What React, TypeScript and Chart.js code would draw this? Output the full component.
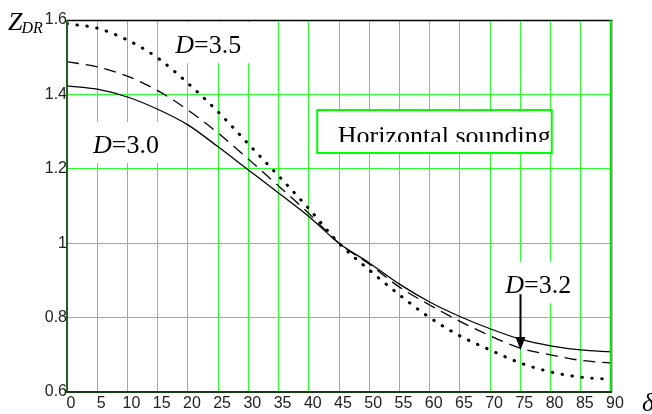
import React, { useEffect, useRef } from "react";
import { Chart, registerables } from "chart.js";

Chart.register(...registerables);

// ---- data ----
const xValues = [0, 5, 10, 15, 20, 25, 30, 35, 40, 45, 50, 55, 60, 65, 70, 75, 80, 85, 90];
const solidD30 = [1.423, 1.414, 1.393, 1.36, 1.318, 1.259, 1.197, 1.135, 1.072, 1.0, 0.947, 0.89, 0.842, 0.803, 0.77, 0.742, 0.724, 0.713, 0.708];
const dashedD32 = [1.488, 1.474, 1.449, 1.41, 1.358, 1.296, 1.226, 1.154, 1.08, 1.0, 0.944, 0.882, 0.834, 0.79, 0.751, 0.718, 0.7, 0.685, 0.678];
const dottedD35 = [1.59, 1.578, 1.546, 1.498, 1.43, 1.353, 1.267, 1.181, 1.093, 1.0, 0.928, 0.861, 0.8, 0.751, 0.713, 0.678, 0.654, 0.64, 0.634];

const xTicks = [0, 5, 10, 15, 20, 25, 30, 35, 40, 45, 50, 55, 60, 65, 70, 75, 80, 85, 90];
const yTicks = [0.6, 0.8, 1.0, 1.2, 1.4, 1.6];
const yTickLabels = ["0.6", "0.8", "1", "1.2", "1.4", "1.6"];

// curve labels (data units: left x, baseline y)
const curveLabelNums = ["3.5", "3.0", "3.2"];
const curveLabelX = [17.9, 4.3, 72.5];
const curveLabelY = [1.511, 1.2425, 0.866];

// "Horizontal sounding" box (data units)
const boxText = "Horizontal sounding";
const boxXRange = [41.4, 80.2];
const boxYRange = [1.358, 1.2425];
const boxTextX = 44.8;
const boxTextBaseline = 1.2667;
const boxTextClip = 1.272;

// arrow for D=3.2
const arrowX = 75;
const arrowFrom = 0.863;
const arrowTo = 0.713;

const SERIF = '"Liberation Serif", "Times New Roman", serif';
const SANS = '"Liberation Sans", Arial, sans-serif';
const GRID = "#2bff2b";

function drawDLabel(ctx: CanvasRenderingContext2D, x: number, y: number, num: string) {
  ctx.font = `italic 26px ${SERIF}`;
  ctx.fillText("D", x, y);
  const w = ctx.measureText("D").width;
  ctx.font = `26px ${SERIF}`;
  ctx.fillText("=" + num, x + w, y);
  return w + ctx.measureText("=" + num).width;
}

function measureDLabel(ctx: CanvasRenderingContext2D, num: string) {
  ctx.font = `italic 26px ${SERIF}`;
  const w = ctx.measureText("D").width;
  ctx.font = `26px ${SERIF}`;
  return w + ctx.measureText("=" + num).width;
}

const annotationPlugin = {
  id: "annots",
  beforeDatasetsDraw(chart: any) {
    const { ctx, scales } = chart;
    const xs = scales.x;
    const ys = scales.y;
    ctx.save();
    // white backgrounds behind labels
    ctx.fillStyle = "#ffffff";
    for (let i = 0; i < curveLabelNums.length; i++) {
      const px = xs.getPixelForValue(curveLabelX[i]);
      const py = ys.getPixelForValue(curveLabelY[i]);
      const w = measureDLabel(ctx, curveLabelNums[i]);
      ctx.fillRect(px - 8, py - 31, w + 16, 41);
    }
    // box
    const bx0 = xs.getPixelForValue(boxXRange[0]);
    const bx1 = xs.getPixelForValue(boxXRange[1]);
    const by0 = ys.getPixelForValue(boxYRange[0]);
    const by1 = ys.getPixelForValue(boxYRange[1]);
    ctx.fillStyle = "#ffffff";
    ctx.fillRect(bx0, by0, bx1 - bx0, by1 - by0);
    ctx.strokeStyle = "#00ff00";
    ctx.lineWidth = 2;
    ctx.strokeRect(bx0, by0, bx1 - bx0, by1 - by0);
    // clipped text
    ctx.save();
    ctx.beginPath();
    ctx.rect(bx0 + 1, by0 + 1, bx1 - bx0 + 10, ys.getPixelForValue(boxTextClip) - by0 - 1);
    ctx.clip();
    ctx.fillStyle = "#000";
    ctx.font = `26px ${SERIF}`;
    ctx.textBaseline = "alphabetic";
    ctx.fillText(boxText, xs.getPixelForValue(boxTextX), ys.getPixelForValue(boxTextBaseline));
    ctx.restore();
    ctx.restore();
  },
  afterDatasetsDraw(chart: any) {
    const { ctx, scales, chartArea } = chart;
    const xs = scales.x;
    const ys = scales.y;
    ctx.save();
    ctx.fillStyle = "#000";
    ctx.textBaseline = "alphabetic";
    ctx.textAlign = "left";
    for (let i = 0; i < curveLabelNums.length; i++) {
      drawDLabel(ctx, xs.getPixelForValue(curveLabelX[i]), ys.getPixelForValue(curveLabelY[i]), curveLabelNums[i]);
    }
    // arrow
    const ax = Math.round(xs.getPixelForValue(arrowX)) + 0.5;
    const ay0 = ys.getPixelForValue(arrowFrom);
    const ay1 = ys.getPixelForValue(arrowTo);
    ctx.strokeStyle = "#000";
    ctx.lineWidth = 2;
    ctx.beginPath();
    ctx.moveTo(ax, ay0);
    ctx.lineTo(ax, ay1 - 10);
    ctx.stroke();
    ctx.beginPath();
    ctx.moveTo(ax - 5, ay1 - 13);
    ctx.lineTo(ax + 5, ay1 - 13);
    ctx.lineTo(ax, ay1);
    ctx.closePath();
    ctx.fill();

    // frame
    const { left, right, top, bottom } = chartArea;
    ctx.lineWidth = 1.5;
    ctx.strokeStyle = "#000";
    ctx.beginPath();
    ctx.moveTo(left, top + 0.5);
    ctx.lineTo(right + 1.5, top + 0.5);
    ctx.stroke();
    ctx.strokeStyle = "#00e000";
    ctx.lineWidth = 1.5;
    ctx.beginPath();
    ctx.moveTo(right - 0.5, top);
    ctx.lineTo(right - 0.5, bottom);
    ctx.stroke();
    ctx.strokeStyle = "#808080";
    ctx.lineWidth = 1;
    ctx.beginPath();
    ctx.moveTo(right + 1, top);
    ctx.lineTo(right + 1, bottom);
    ctx.stroke();
    ctx.strokeStyle = "#1f5f1f";
    ctx.lineWidth = 2;
    ctx.beginPath();
    ctx.moveTo(left, top);
    ctx.lineTo(left, bottom + 1);
    ctx.stroke();
    ctx.strokeStyle = "#143d14";
    ctx.beginPath();
    ctx.moveTo(left - 1, bottom);
    ctx.lineTo(right + 1, bottom);
    ctx.stroke();

    // axis titles
    ctx.fillStyle = "#000";
    ctx.font = `italic 26px ${SERIF}`;
    ctx.fillText("Z", left - 59, top + 10);
    const zw = ctx.measureText("Z").width;
    ctx.font = `italic 16px ${SERIF}`;
    ctx.fillText("DR", left - 59 + zw - 1, top + 13);
    ctx.font = `italic 26px ${SERIF}`;
    ctx.fillText("δ", right + 31, bottom + 19);
    ctx.restore();
  },
};

export default function App() {
  const ref = useRef<HTMLCanvasElement | null>(null);
  useEffect(() => {
    if (!ref.current) return;
    const chart = new Chart(ref.current, {
      type: "line",
      data: {
        labels: xValues,
        datasets: [
          {
            label: "D=3.0",
            data: xValues.map((x, i) => ({ x, y: solidD30[i] })),
            borderColor: "#000",
            borderWidth: 1.3,
            pointRadius: 0,
            cubicInterpolationMode: "monotone",
            fill: false,
          },
          {
            label: "D=3.2",
            data: xValues.map((x, i) => ({ x, y: dashedD32[i] })),
            borderColor: "#000",
            borderWidth: 1.3,
            borderDash: [12, 7],
            pointRadius: 0,
            cubicInterpolationMode: "monotone",
            fill: false,
          },
          {
            label: "D=3.5",
            data: xValues.map((x, i) => ({ x, y: dottedD35[i] })),
            borderColor: "#000",
            borderWidth: 3,
            borderDash: [0.5, 9.5],
            borderCapStyle: "round",
            pointRadius: 0,
            cubicInterpolationMode: "monotone",
            fill: false,
          },
        ],
      },
      options: {
        responsive: false,
        animation: false,
        layout: { padding: { left: 0, top: 20, right: 41, bottom: 0 } },
        plugins: { legend: { display: false }, tooltip: { enabled: false } },
        scales: {
          x: {
            type: "linear",
            min: 0,
            max: 90,
            afterBuildTicks: (s: any) => {
              s.ticks = xTicks.map((v) => ({ value: v }));
            },
            afterFit: (s: any) => {
              s.height = 22;
            },
            ticks: {
              autoSkip: false,
              maxRotation: 0,
              padding: 2,
              labelOffset: 4,
              color: "#222",
              font: { family: SANS, size: 16 },
              callback: (v: any) => String(v),
            },
            grid: { color: GRID, lineWidth: 1, drawTicks: false },
            border: { display: false },
          },
          y: {
            type: "linear",
            min: 0.6,
            max: 1.6,
            afterBuildTicks: (s: any) => {
              s.ticks = yTicks.map((v) => ({ value: v }));
            },
            afterFit: (s: any) => {
              s.width = 67;
            },
            ticks: {
              autoSkip: false,
              padding: 0,
              color: "#222",
              font: { family: SANS, size: 16 },
              callback: (v: any) => {
                const i = yTicks.findIndex((t) => Math.abs(t - v) < 1e-6);
                return i >= 0 ? yTickLabels[i] : "";
              },
            },
            grid: { color: GRID, lineWidth: 1, drawTicks: false },
            border: { display: false },
          },
        },
      },
      plugins: [annotationPlugin],
    } as any);
    return () => chart.destroy();
  }, []);
  return (
    <div style={{ position: "absolute", left: 0, top: 0, width: 652, height: 414, background: "#fff" }}>
      <canvas ref={ref} width={652} height={414} style={{ display: "block", width: 652, height: 414 }} />
    </div>
  );
}
